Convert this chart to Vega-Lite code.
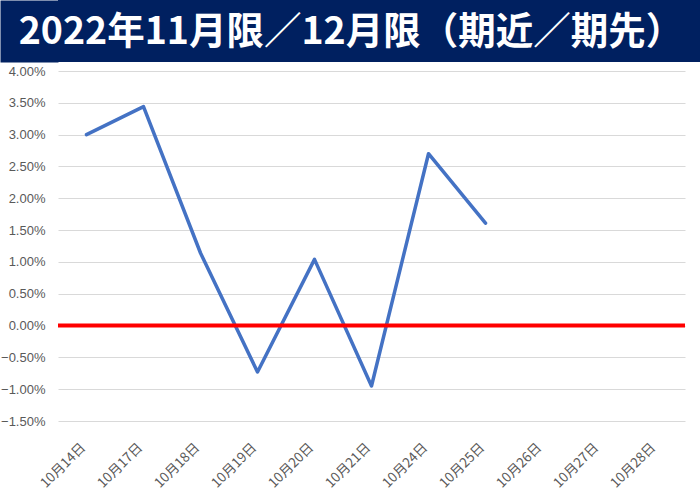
{
  "$schema": "https://vega.github.io/schema/vega-lite/v6.json",
  "padding": 0,
  "background": "white",
  "spacing": 3,
  "config": {"view": {"stroke": null}},
  "vconcat": [
    {
      "width": 642,
      "height": 62,
      "view": {"fill": "#002060", "stroke": null},
      "data": {"values": [{"title": "2022年11月限／12月限（期近／期先）", "pos": 0}]},
      "mark": {"type": "text", "color": "white", "font": "Noto Sans CJK JP", "fontWeight": "bold", "fontSize": 37.5, "align": "center", "baseline": "middle", "dx": -28, "dy": 2},
      "encoding": {
        "text": {"field": "title"},
        "y": {"field": "pos", "type": "quantitative", "scale": {"domain": [-1, 1]},
          "axis": {"title": null, "labels": false, "ticks": false, "grid": false, "domain": true, "domainColor": "#002060", "domainWidth": 58, "domainCap": "butt", "offset": 29}}
      }
    },
    {
      "width": 627,
      "height": 350,
      "layer": [
        {
          "data": {"values": [
            {"date": "10月14日", "value": 0.0300},
            {"date": "10月17日", "value": 0.0344},
            {"date": "10月18日", "value": 0.0114},
            {"date": "10月19日", "value": -0.0073},
            {"date": "10月20日", "value": 0.0104},
            {"date": "10月21日", "value": -0.0095},
            {"date": "10月24日", "value": 0.0270},
            {"date": "10月25日", "value": 0.0161}
          ]},
          "mark": {"type": "line", "color": "#4472C4", "strokeWidth": 3.5, "strokeCap": "round", "strokeJoin": "round"},
          "encoding": {
            "x": {
              "field": "date", "type": "ordinal", "sort": null,
              "scale": {"type": "band", "domain": ["10月14日","10月17日","10月18日","10月19日","10月20日","10月21日","10月24日","10月25日","10月26日","10月27日","10月28日"], "paddingInner": 0, "paddingOuter": 0},
              "axis": {"title": null, "labelAngle": -45, "labelAlign": "right", "labelBaseline": "middle", "labelPadding": 24, "labelOffset": -3, "ticks": false, "domain": false, "grid": false, "labelFont": "Noto Sans CJK JP", "labelFontSize": 13.5, "labelColor": "#595959", "labelOverlap": false}
            },
            "y": {
              "field": "value", "type": "quantitative",
              "scale": {"domain": [-0.015, 0.04], "nice": false, "zero": false},
              "axis": {"title": null, "values": [-0.015,-0.01,-0.005,0,0.005,0.01,0.015,0.02,0.025,0.03,0.035,0.04], "tickCount": 30, "format": ".2%", "ticks": false, "domain": false, "labelPadding": 13, "labelFont": "Liberation Sans", "labelFontSize": 13, "labelColor": "#595959", "gridColor": "#d9d9d9", "gridWidth": 1, "labelOverlap": false, "labelFlush": false}
            }
          }
        },
        {
          "data": {"values": [{"zero": 0}]},
          "mark": {"type": "rule", "color": "#FF0000", "strokeWidth": 4},
          "encoding": {"y": {"field": "zero", "type": "quantitative",
            "axis": {"title": null, "values": [-0.015,-0.01,-0.005,0,0.005,0.01,0.015,0.02,0.025,0.03,0.035,0.04], "tickCount": 30, "format": ".2%", "ticks": false, "domain": false, "labelPadding": 13, "labelFont": "Liberation Sans", "labelFontSize": 13, "labelColor": "#595959", "gridColor": "#d9d9d9", "gridWidth": 1, "labelOverlap": false, "labelFlush": false}}}
        }
      ]
    }
  ]
}
